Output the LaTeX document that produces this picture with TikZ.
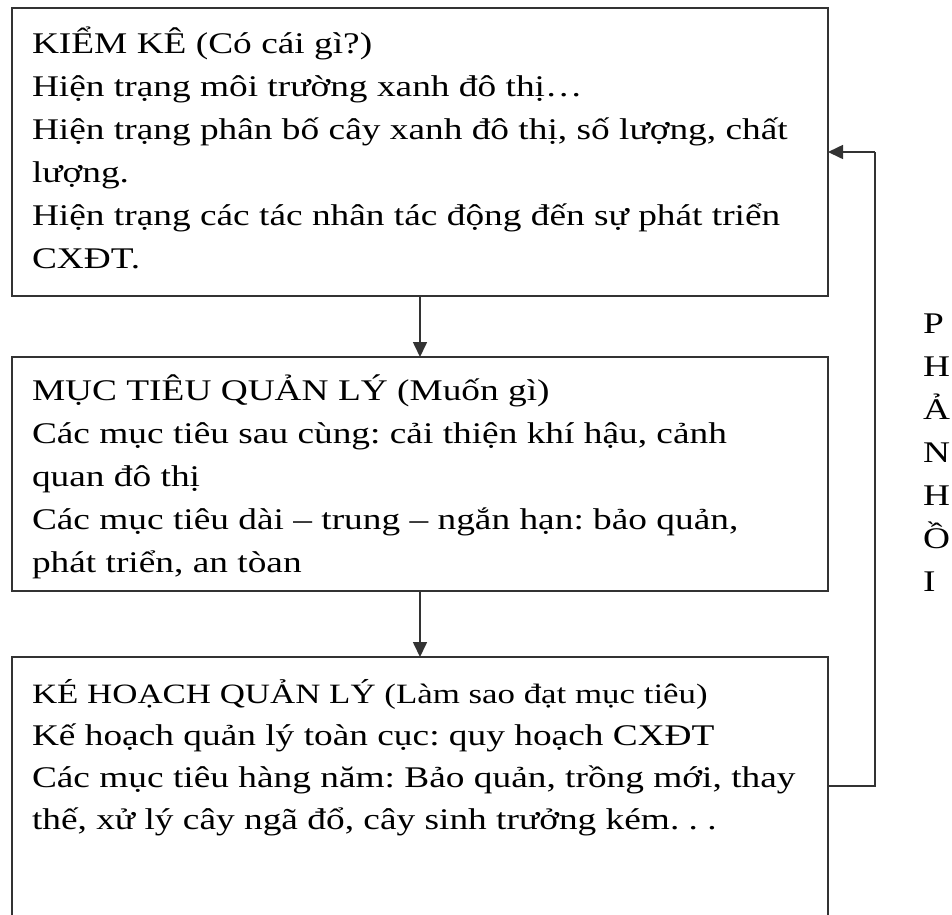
\documentclass[tikz,border=0pt]{standalone}
\usepackage{fontspec}
\setmainfont{Liberation Serif}[FakeStretch=1.245]
\frenchspacing
\usetikzlibrary{arrows.meta}
\begin{document}
\begin{tikzpicture}[x=1pt,y=-1pt,
  boxnode/.style={draw=black!80, line width=1.6pt, rectangle, inner sep=0pt, outer sep=0pt, anchor=north west, minimum width=816pt},
  txt/.style={anchor=north west, inner sep=0pt, outer sep=0pt, align=left, font=\fontsize{30}{43}\selectfont},
  arr/.style={draw=black!80, line width=1.6pt, -{Triangle[length=15pt,width=14pt]}},
  conn/.style={draw=black!80, line width=1.6pt}]
\useasboundingbox (0,0) rectangle (952,914);
\clip (0,0) rectangle (952,914);
\node[boxnode, minimum height=288pt] (b1) at (12,8) {};
\node[boxnode, minimum height=234pt] (b2) at (12,357) {};
\node[boxnode, minimum height=300pt] (b3) at (12,657) {};
\node[txt] (t1) at (32,22.9) {\strut KIỂM KÊ (Có cái gì?)\\
Hiện trạng môi trường xanh đô thị…\\
Hiện trạng phân bố cây xanh đô thị, số lượng, chất\\
lượng.\\
Hiện trạng các tác nhân tác động đến sự phát triển\\
CXĐT.};
\node[txt] (t2) at (32,369.9) {\strut MỤC TIÊU QUẢN LÝ (Muốn gì)\\
Các mục tiêu sau cùng: cải thiện khí hậu, cảnh\\
quan đô thị\\
Các mục tiêu dài – trung – ngắn hạn: bảo quản,\\
phát triển, an tòan};
\node[txt, font=\fontsize{30}{42}\selectfont] (t3) at (32,673.6) {\strut{\fontsize{28}{42}\selectfont KÉ HOẠCH QUẢN LÝ (Làm sao đạt mục tiêu)}\\
Kế hoạch quản lý toàn cục: quy hoạch CXĐT\\
Các mục tiêu hàng năm: Bảo quản, trồng mới, thay\\
thế, xử lý cây ngã đổ, cây sinh trưởng kém. . .};
\node[txt] (fbl) at (923,302.9) {\strut P\\H\\Ả\\N\\H\\Ồ\\I};
\coordinate (fbt) at (875,152);
\coordinate (fbb) at (875,786);
\draw[arr] (b1.south) -- (b2.north);
\draw[arr] (b2.south) -- (b3.north);
\draw[conn] (b3.east |- fbb) -- (fbb) -- (fbt);
\draw[arr] (fbt) -- (b1.east |- fbt);
\end{tikzpicture}
\end{document}
